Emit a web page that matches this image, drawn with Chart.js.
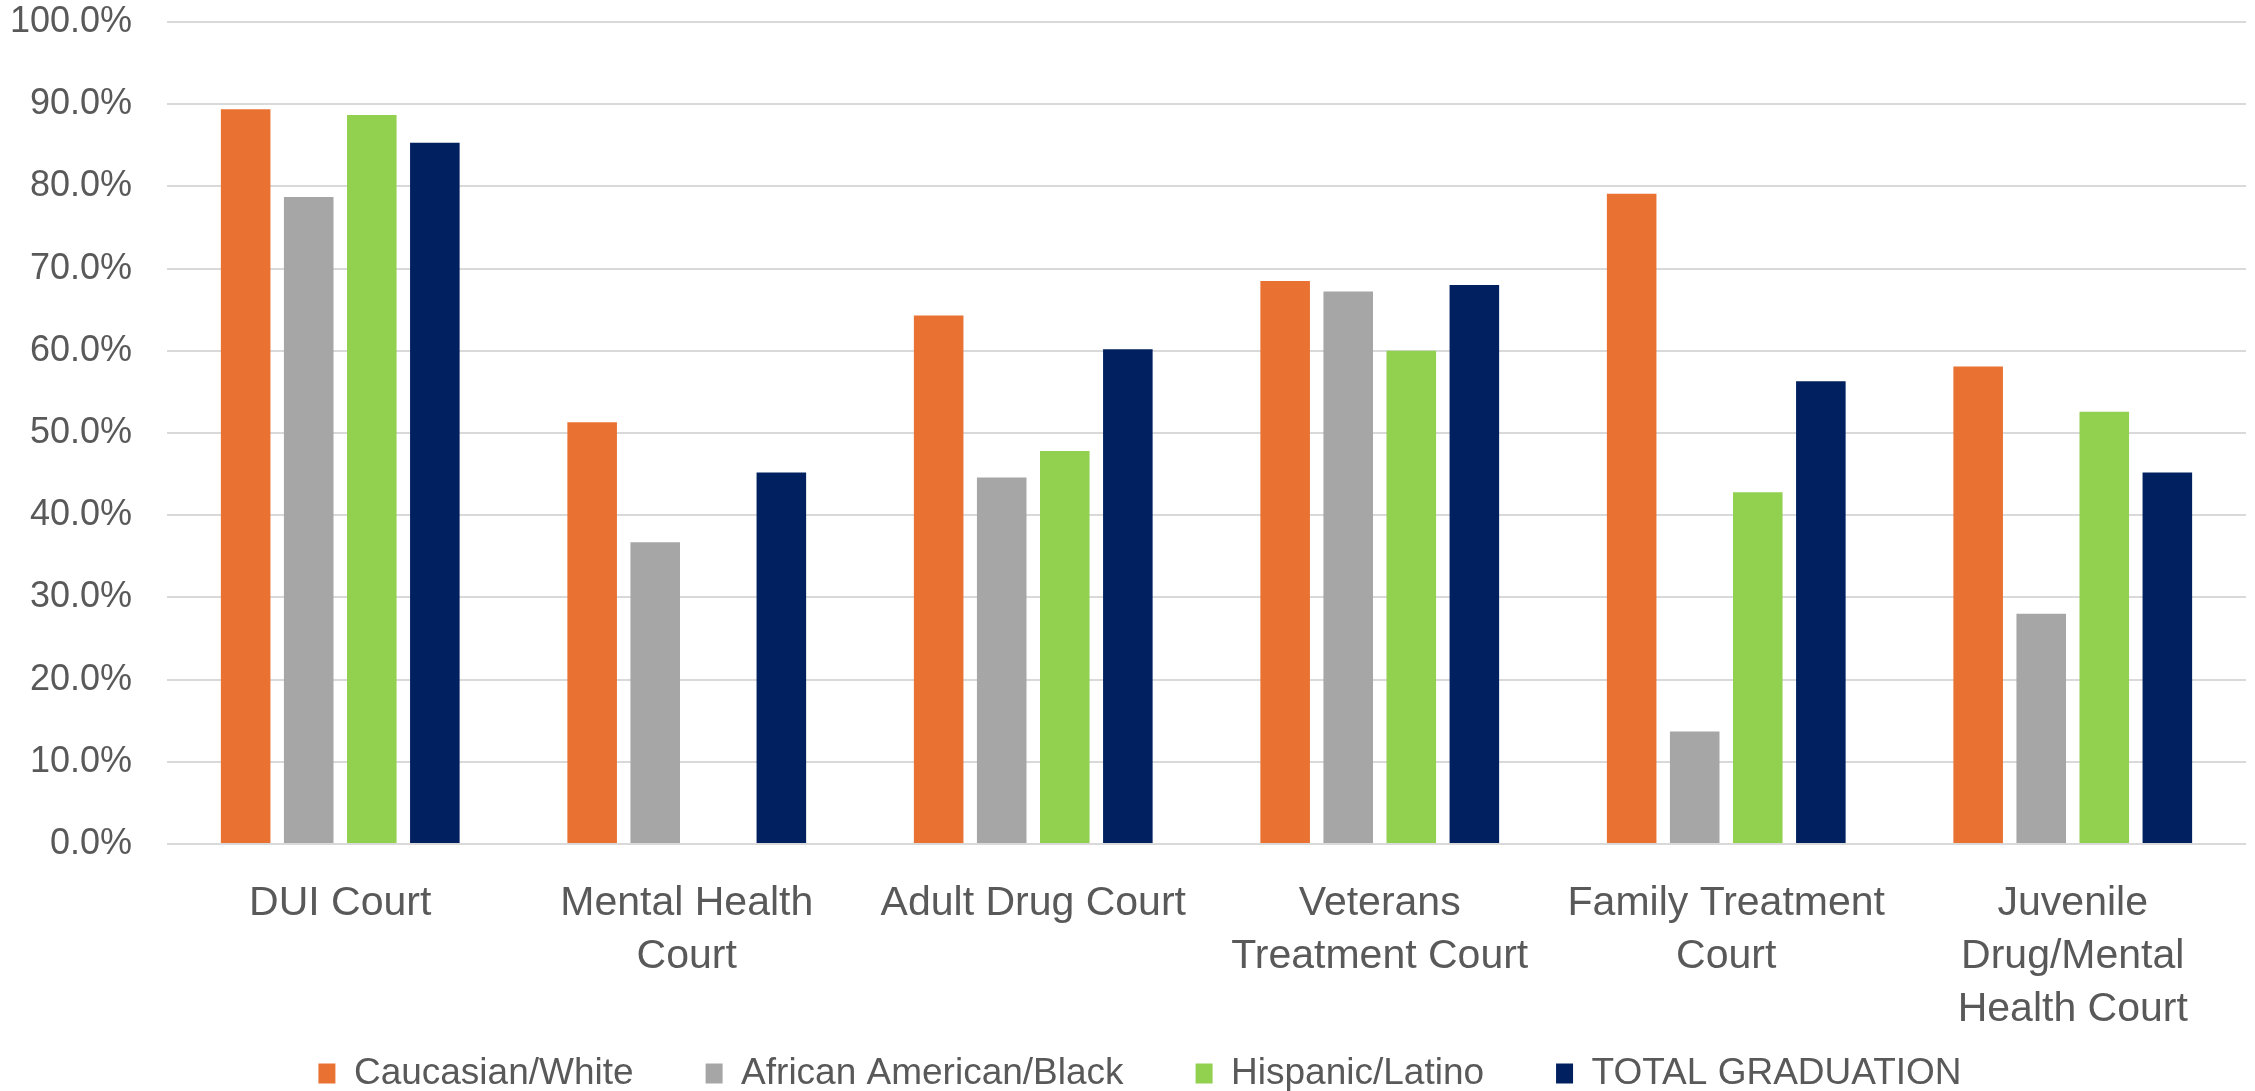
<!DOCTYPE html>
<html>
<head>
<meta charset="utf-8">
<script src="https://cdn.jsdelivr.net/npm/chart.js@4/dist/chart.umd.min.js"></script>
<style>
  html, body { margin: 0; padding: 0; background: #fff; }
  #chart { display: block; }
</style>
</head>
<body>
<canvas id="chart" width="2255" height="1091"></canvas>
<script>
// Graduation rate by court type and race/ethnicity (percent)
const courts = [
  'DUI Court',
  ['Mental Health', 'Court'],
  'Adult Drug Court',
  ['Veterans', 'Treatment Court'],
  ['Family Treatment', 'Court'],
  ['Juvenile', 'Drug/Mental', 'Health Court']
];
const caucasianWhite = [89.4, 51.3, 64.3, 68.5, 79.1, 58.1];
const africanAmericanBlack = [78.7, 36.7, 44.6, 67.2, 13.7, 28.0];
const hispanicLatino = [88.7, null, 47.8, 60.0, 42.8, 52.6];
const totalGraduation = [85.3, 45.2, 60.2, 68.0, 56.3, 45.2];

const seriesNames = ['Caucasian/White', 'African American/Black', 'Hispanic/Latino', 'TOTAL GRADUATION'];
const seriesColors = ['#E97132', '#A6A6A6', '#92D050', '#002060'];

const textColor = '#595959';
Chart.defaults.font.family = '"Liberation Sans", Arial, sans-serif';
Chart.defaults.color = textColor;

// legend keeps its wide item spacing (labels.padding) but sits closer to the axis
const legendLift = {
  id: 'legendLift',
  afterLayout(chart) {
    const lift = 45;
    const nudge = 17;
    chart.legend.top -= lift;
    chart.legend.bottom -= lift;
    chart.legend.left += nudge;
    chart.legend.right += nudge;
  }
};

const ctx = document.getElementById('chart').getContext('2d');

const seriesData = [caucasianWhite, africanAmericanBlack, hispanicLatino, totalGraduation];

const chart = new Chart(ctx, {
  type: 'bar',
  data: {
    labels: courts,
    datasets: seriesData.map((values, i) => ({
      label: seriesNames[i],
      data: values,
      backgroundColor: seriesColors[i],
      borderWidth: 0,
      categoryPercentage: 0.728,
      barPercentage: 0.786
    }))
  },
  plugins: [legendLift],
  options: {
    responsive: false,
    devicePixelRatio: 1,
    animation: false,
    layout: {
      padding: { top: 22, right: 9, bottom: -56, left: 0 }
    },
    plugins: {
      tooltip: { enabled: false },
      legend: {
        position: 'bottom',
        labels: {
          color: textColor,
          font: { size: 37 },
          boxWidth: 17,
          boxHeight: 20,
          padding: 72
        }
      }
    },
    scales: {
      x: {
        grid: { display: false },
        border: { display: false },
        ticks: {
          color: textColor,
          font: { size: 41, lineHeight: 1.29 },
          padding: 25,
          autoSkip: false,
          maxRotation: 0
        },
        afterFit: (scale) => { scale.height = 184; }
      },
      y: {
        min: 0,
        max: 100,
        border: { display: false },
        grid: { color: '#d9d9d9', lineWidth: 2, drawTicks: false },
        ticks: {
          stepSize: 10,
          color: textColor,
          font: { size: 36 },
          padding: 35,
          callback: (value) => value.toFixed(1) + '%'
        },
        afterFit: (scale) => {
          scale.width = 167;
          scale.paddingTop = 0;
          scale.paddingBottom = 0;
        }
      }
    }
  }
});
</script>
</body>
</html>
